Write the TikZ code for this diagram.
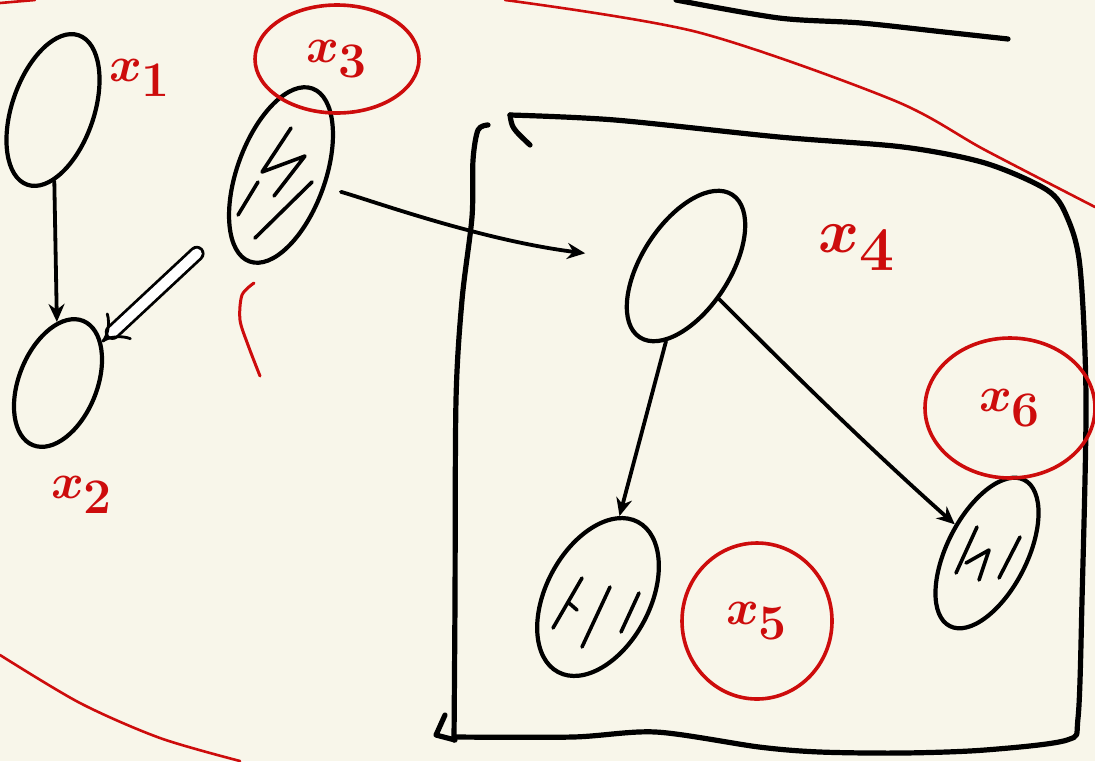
\documentclass[tikz,border=0pt]{standalone}
\usetikzlibrary{shapes.geometric,arrows.meta}
\definecolor{paper}{RGB}{248,246,234}
\definecolor{ink}{RGB}{205,12,12}
\begin{document}
\begin{tikzpicture}[x=0.5pt, y=-0.5pt, line join=round, line cap=round, >={Stealth[length=9pt, width=8pt]}]
	\tikzset{var/.style={draw, ellipse, line width=2.1pt, inner sep=0pt},
		lbl/.style={text=ink, font=\fontsize{52}{52}\selectfont\boldmath},
		ring/.style={lbl, draw=ink, ellipse, line width=1.8pt, inner sep=0pt},
		edge/.style={->, line width=1.9pt},
		hatch/.style={line width=1.8pt}}
	\fill[paper] (0,0) rectangle (1095,761);
	\useasboundingbox (0,0) rectangle (1095,761);
	% variables
	\node[var, minimum width=79pt, minimum height=41pt, rotate=71] (x1) at (53,110) {};
	\node[var, minimum width=67pt, minimum height=39pt, rotate=68] (x2) at (58,383) {};
	\node[var, minimum width=92pt, minimum height=44pt, rotate=70] (x3) at (281,175) {};
	\node[var, minimum width=85pt, minimum height=44pt, rotate=57] (x4) at (686,266) {};
	\node[var, minimum width=85pt, minimum height=52pt, rotate=62] (x5) at (598,597) {};
	\node[var, minimum width=82pt, minimum height=40pt, rotate=63] (x6) at (987,553) {};
	% observed ones
	\draw[hatch] (291,128)--(262,172)--(305,156)--(274,196) (312,182)--(255,238) (258,182)--(238,215);
	\draw[hatch] (582,578)--(553,628) (569,603)--(577,610) (610,587)--(582,647) (639,593)--(621,632);
	\draw[hatch] (977,527)--(956,573) (966,563)--(989,550)--(979,580) (1020,537)--(999,578);
	% edges
	\draw[edge] (x1)--(x2);
	\draw[double, double distance=5pt, line width=1.4pt, -{Implies}, shorten <=21pt] (x3)--(x2);
	\draw[edge, shorten <=8pt, shorten >=26pt] (x3) .. controls (370,200) and (480,240) .. (x4);
	\draw[edge] (x4)--(x5);
	\draw[edge] (x4) .. controls (780,360) and (860,440) .. (x6);
	% plate
	\draw[line width=2.6pt] (530,145) .. controls (512,128) .. (510,115);
	\draw[line width=2.6pt] plot[smooth] coordinates {(510,115) (615,120) (779,137) (903,147) (985,163) (1047,190) (1067,217) (1080,267) (1086,400) (1082,600) (1078,718) (1067,740) (985,750) (903,753) (820,752) (759,747) (656,732) (573,737) (454,737)};
	\draw[line width=2.6pt] plot[smooth] coordinates {(488,125) (478,130) (473,160) (472,217) (462,300) (456,400) (455,600) (454,740)};
	\draw[line width=2.6pt] (445,715)--(436,735)--(455,740);
	\draw[line width=2.6pt] plot[smooth] coordinates {(676,0) (779,18) (861,23) (944,32) (1008,39)};
	% red marks
	\draw[ink, line width=1.3pt] plot[smooth] coordinates {(0,3) (35,0)};
	\draw[ink, line width=1.3pt] plot[smooth] coordinates {(505,0) (697,32) (893,100) (985,150) (1095,207)};
	\draw[ink, line width=1.3pt] plot[smooth] coordinates {(0,655) (80,703) (160,738) (240,761)};
	\draw[ink, line width=1.5pt] plot[smooth] coordinates {(254,283) (242,295) (240,320) (248,345) (260,376)};
	% labels
	\foreach \i/\xx/\yy/\s in {1/140/78/1, 2/82/495/1, 4/857/248/1.25}
		\node[lbl, scale=\s] (l\i) at (\xx,\yy) {$x_{\i}$};
	\node[ring, minimum width=82pt, minimum height=54pt] (l3) at (337,59) {$x_3$};
	\node[ring, minimum width=75pt, minimum height=78pt] (l5) at (757,621) {$x_5$};
	\node[ring, minimum width=85pt, minimum height=70pt] (l6) at (1010,408) {$x_6$};
\end{tikzpicture}
\end{document}
